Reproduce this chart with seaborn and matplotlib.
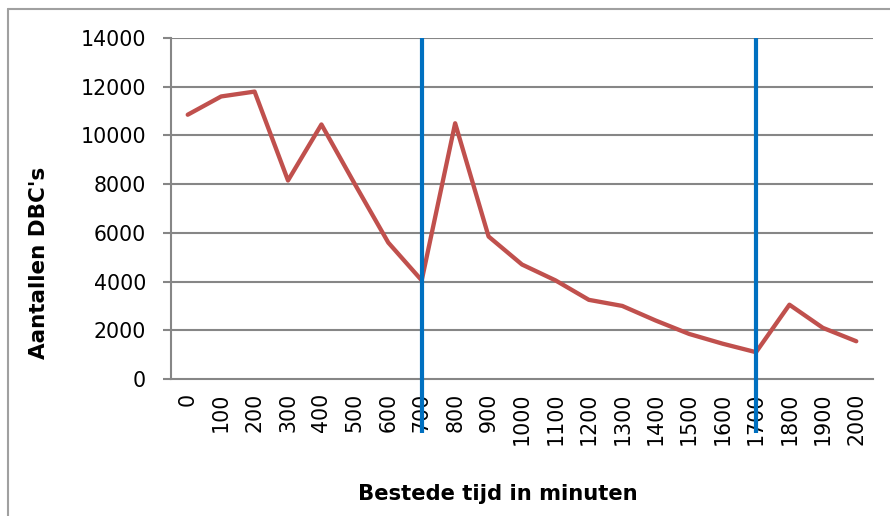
import matplotlib
matplotlib.use('Agg')
import matplotlib.pyplot as plt
import seaborn as sns
import pandas as pd

# Data
minutes = [0, 100, 200, 300, 400, 500, 600, 700, 800, 900, 1000,
           1100, 1200, 1300, 1400, 1500, 1600, 1700, 1800, 1900, 2000]
dbc_counts = [10850, 11600, 11800, 8150, 10450, 8000, 5600, 4050, 10500, 5850, 4700,
              4050, 3250, 3000, 2400, 1850, 1450, 1100, 3050, 2100, 1550]
marker_minutes = [700, 1700]
y_ticks = [0, 2000, 4000, 6000, 8000, 10000, 12000, 14000]

df = pd.DataFrame({'tijd': [str(m) for m in minutes], 'aantal': dbc_counts})

sns.set_style('white')
plt.rcParams['font.family'] = ['DejaVu Sans']
plt.rcParams['text.color'] = 'black'
plt.rcParams['xtick.color'] = 'black'
plt.rcParams['ytick.color'] = 'black'

fig = plt.figure(figsize=(8.9, 5.16), dpi=100)
ax = fig.add_axes([171 / 890, 1 - 379 / 516, (873 - 171) / 890, (379 - 38) / 516])

grid_col = '#868686'
for t in y_ticks[1:]:
    ax.axhline(t, color=grid_col, lw=1.5, zorder=1)

sns.lineplot(data=df, x='tijd', y='aantal', ax=ax, color='#C0504D',
             linewidth=3.1, sort=False, zorder=3)

# vertical markers, extending below the axis
for m in marker_minutes:
    pos = minutes.index(m)
    ax.plot([pos, pos], [-2200, 14000], color='#0070C0', lw=3,
            solid_capstyle='butt', clip_on=False, zorder=4)

ax.set_xlim(-0.5, len(minutes) - 0.5)
ax.set_ylim(0, 14000)
ax.set_yticks(y_ticks)
ax.set_yticklabels([str(t) for t in y_ticks], fontsize=14.8)
ax.set_xticks(range(len(minutes)))
ax.set_xticklabels([str(m) for m in minutes], rotation=90, fontsize=14.8)
ax.set_xticks([i - 0.5 for i in range(len(minutes) + 1)], minor=True)
ax.tick_params(axis='x', which='major', length=0, pad=10)
ax.tick_params(axis='x', which='minor', length=6, width=1.5, color=grid_col, direction='out')
ax.tick_params(axis='y', length=6, width=1.5, color=grid_col, labelcolor='black',
               direction='out', pad=12, left=True)

for s in ['top', 'right']:
    ax.spines[s].set_visible(False)
for s in ['left', 'bottom']:
    ax.spines[s].set_color(grid_col)
    ax.spines[s].set_linewidth(1.5)

ax.set_xlabel('')
ax.set_ylabel('')

fig.text(498 / 890, 1 - 494 / 516, 'Bestede tijd in minuten', ha='center', va='center',
         fontsize=15.2, fontweight='bold')
fig.text(39 / 890, 1 - 263 / 516, "Aantallen DBC's", ha='center', va='center',
         rotation=90, fontsize=15.5, fontweight='bold')

# chart area frame (top and left edges visible)
fig.add_artist(plt.Line2D([8 / 890, 8 / 890], [0, 1 - 9 / 516], color='#A0A0A0', lw=1.5))
fig.add_artist(plt.Line2D([8 / 890, 1], [1 - 9 / 516, 1 - 9 / 516], color='#A0A0A0', lw=1.5))

fig.savefig('out.png', dpi=100)
